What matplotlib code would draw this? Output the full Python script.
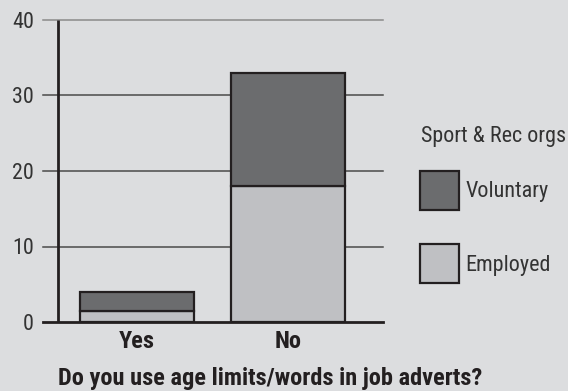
import matplotlib
matplotlib.use('Agg')
import matplotlib.pyplot as plt
from matplotlib import font_manager
from matplotlib.font_manager import FontProperties
from matplotlib.textpath import TextPath
import numpy as np

# Dados
categories = ['Yes', 'No']
employed = [1.5, 18]
voluntary = [2.5, 15]
y_ticks = [0, 10, 20, 30, 40]

bg = '#dcdddf'
col_vol = '#6b6c6e'
col_emp = '#bfc0c3'
edge = '#231f20'

# escolhe uma fonte condensada que tenha negrito
weights = {}
for f in font_manager.fontManager.ttflist:
    if f.style == 'normal':
        weights.setdefault(f.name, set()).add(f.weight)
family = 'DejaVu Sans'
for name in ['Roboto Condensed', 'Liberation Sans Narrow', 'Archivo Narrow',
             'Barlow Semi Condensed', 'Asap Condensed']:
    w = weights.get(name, set())
    if 400 in w and 700 in w:
        family = name
        break
plt.rcParams['font.family'] = [family, 'DejaVu Sans']


def size_for(text, px, weight='normal'):
    """Tamanho de fonte (pt) para que o texto tenha px de largura a 100 dpi."""
    tp = TextPath((0, 0), text, size=10, prop=FontProperties(family=family, weight=weight))
    return 10 * px * 0.72 / tp.get_extents().width


fs_reg = (size_for('Voluntary', 81) + size_for('Sport & Rec orgs', 145)) / 2
fs_bold = size_for('Do you use age limits/words in job adverts?', 422, 'bold')
fs_px = fs_reg * 100 / 72

fig = plt.figure(figsize=(5.68, 3.91), dpi=100, facecolor=bg)
ax = fig.add_axes([43 / 568, 1 - 322 / 391, 340 / 568, 302 / 391])
ax.set_facecolor(bg)

x = np.arange(len(categories))
width = 0.752
b_emp = ax.bar(x, employed, width, color=col_emp, edgecolor=edge, linewidth=1.6,
               label='Employed', zorder=3)
b_vol = ax.bar(x, voluntary, width, bottom=employed, color=col_vol, edgecolor=edge,
               linewidth=1.6, label='Voluntary', zorder=3)

ax.set_xlim(-0.62, 1.624)
ax.set_ylim(0, 40)

# linhas de grade
for t in y_ticks[1:]:
    c = '#8a8a8a' if t == y_ticks[-1] else '#4a4a4a'
    ax.axhline(t, color=c, lw=1.1, zorder=1, clip_on=False)
ax.axhline(0, color=edge, lw=2, zorder=4, clip_on=False)
ax.plot([x[0] - 0.52, x[0] - 0.52], [0, 40], color=edge, lw=2, zorder=2,
        solid_capstyle='butt', clip_on=False)

for s in ax.spines.values():
    s.set_visible(False)

ax.set_yticks(y_ticks)
ax.tick_params(axis='y', length=0, pad=6.5, labelsize=fs_reg, labelcolor='#333333')
ax.set_xticks(x)
ax.set_xticklabels(categories, fontsize=fs_bold, fontweight='bold', color='#231f20')
ax.tick_params(axis='x', length=0, pad=6)

fig.text(58 / 568, 1 - 379 / 391, 'Do you use age limits/words in job adverts?',
         ha='left', va='center', fontsize=fs_bold, fontweight='bold', color='#231f20')

# legenda: título separado + caixas quadradas de 39 px
fig.text(421 / 568, 1 - 126 / 391, 'Sport & Rec orgs', ha='left', va='top',
         fontsize=fs_reg, color='#333333')
box = 39 / fs_px
hh = (box - 0.245) / 0.65
leg = fig.legend(handles=[b_vol, b_emp], labels=['Voluntary', 'Employed'],
                 loc='upper left', bbox_to_anchor=(420 / 568, 1 - 171 / 391),
                 frameon=False, fontsize=fs_reg, handlelength=box, handleheight=hh,
                 handletextpad=0.3, labelspacing=(86 - hh * fs_px) / fs_px,
                 borderpad=0, borderaxespad=0)
for t in leg.get_texts():
    t.set_color('#333333')

fig.savefig('out.png', dpi=100, facecolor=bg)
